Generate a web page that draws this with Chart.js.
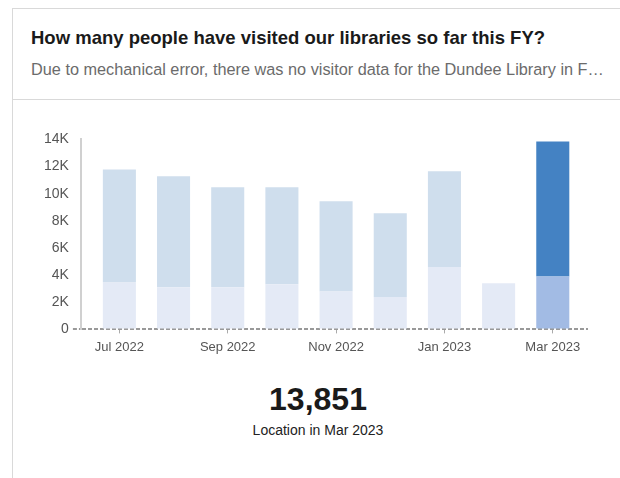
<!DOCTYPE html>
<html>
<head>
<meta charset="utf-8">
<script src="https://cdn.jsdelivr.net/npm/chart.js@4/dist/chart.umd.min.js"></script>
<style>
  html, body { margin: 0; padding: 0; background: #fff; width: 620px; height: 478px; overflow: hidden; }
  body { font-family: "Liberation Sans", Arial, sans-serif; }
  .card { position: absolute; left: 12px; top: 8px; width: 620px; height: 480px;
          border-left: 1px solid #d9d9d9; border-top: 1px solid #d9d9d9; box-sizing: border-box; }
  .head { height: 91px; border-bottom: 1px solid #d9d9d9; box-sizing: border-box; }
  .title { position: absolute; left: 18px; top: 18px; font-size: 18.5px; font-weight: bold; color: #1a1a1a; white-space: nowrap; }
  .sub { position: absolute; left: 18px; top: 51px; width: 578px; font-size: 16.3px; color: #6b6b6b;
         white-space: nowrap; overflow: hidden; text-overflow: ellipsis; }
  .chartbox { position: absolute; left: 0px; top: 127px; width: 596px; height: 234px; }
  .kpi { position: absolute; top: 0; left: 12px; width: 612px; text-align: center; }
  .kpi .num { position: absolute; top: 381px; width: 100%; font-size: 32px; font-weight: bold; color: #1a1a1a; }
  .kpi .lab { position: absolute; top: 422px; width: 100%; font-size: 14px; color: #222; }
</style>
</head>
<body>
<div class="card">
  <div class="head">
    <div class="title">How many people have visited our libraries so far this FY?</div>
    <div class="sub">Due to mechanical error, there was no visitor data for the Dundee Library in February 2023.</div>
  </div>
</div>
<div class="chartbox"><canvas id="c"></canvas></div>
<div class="kpi">
  <div class="num" id="kpiNum"></div>
  <div class="lab" id="kpiLab"></div>
</div>
<script>
// Monthly visitors per library, FY 2022/23
const months = ["Jul 2022", "Aug 2022", "Sep 2022", "Oct 2022", "Nov 2022", "Dec 2022", "Jan 2023", "Feb 2023", "Mar 2023"];
const branchA = [3460, 3100, 3100, 3320, 2800, 2380, 4600, 3400, 3900];
const branchB = [8330, 8180, 7370, 7150, 6640, 6170, 7050, null, 9951];
const yTicks = [0, 2000, 4000, 6000, 8000, 10000, 12000, 14000];

const hi = months.length - 1;
const lightA = "#e4eaf6", lightB = "#cfdeed";
const darkA = "#a2bbe4", darkB = "#4482c3";

const pts = (arr) => arr.map((v, i) => ({ x: i, y: v }));
const colorsFor = (light, dark) => months.map((_, i) => i === hi ? dark : light);

const total = (branchA[hi] || 0) + (branchB[hi] || 0);
document.getElementById("kpiNum").textContent = total.toLocaleString("en-US");
document.getElementById("kpiLab").textContent = "Location in " + months[hi];

const kFmt = (v) => v === 0 ? "0" : (v / 1000) + "K";

new Chart(document.getElementById("c"), {
  type: "bar",
  data: {
    datasets: [
      { label: "Location A", data: pts(branchA), backgroundColor: colorsFor(lightA, darkA),
        barPercentage: 1, categoryPercentage: 0.61 },
      { label: "Location B", data: pts(branchB), backgroundColor: colorsFor(lightB, darkB),
        barPercentage: 1, categoryPercentage: 0.61 }
    ]
  },
  options: {
    responsive: true,
    maintainAspectRatio: false,
    animation: false,
    layout: { padding: { left: 40, right: 8, top: 8, bottom: 0 } },
    plugins: { legend: { display: false }, tooltip: { enabled: false } },
    scales: {
      x: {
        type: "linear",
        stacked: true,
        offset: false,
        min: -0.71,
        max: 8.65,
        afterBuildTicks: (axis) => { axis.ticks = [0, 2, 4, 6, 8].map(v => ({ value: v })); },
        ticks: {
          callback: (v) => months[v],
          color: "#555",
          font: { family: "Liberation Sans", size: 13 },
          maxRotation: 0,
          padding: 6
        },
        grid: { display: true, offset: false, drawOnChartArea: false, drawTicks: true, tickLength: 4, color: "#aaa", lineWidth: 1 },
        border: { display: false }
      },
      y: {
        stacked: true,
        min: 0,
        max: 14000,
        afterBuildTicks: (axis) => { axis.ticks = yTicks.map(v => ({ value: v })); },
        ticks: {
          callback: kFmt,
          color: "#555",
          font: { family: "Liberation Sans", size: 14 },
          padding: 4
        },
        grid: {
          display: true,
          drawOnChartArea: true,
          drawTicks: true,
          tickLength: 8,
          color: (ctx) => ctx.tick && ctx.tick.value === 0 ? "#999" : "transparent",
          lineWidth: 2,
          tickBorderDash: [4, 2]
        },
        border: { display: true, color: "#d0d0d0", width: 2, dash: [4, 2] }
      }
    }
  }
});
</script>
</body>
</html>
